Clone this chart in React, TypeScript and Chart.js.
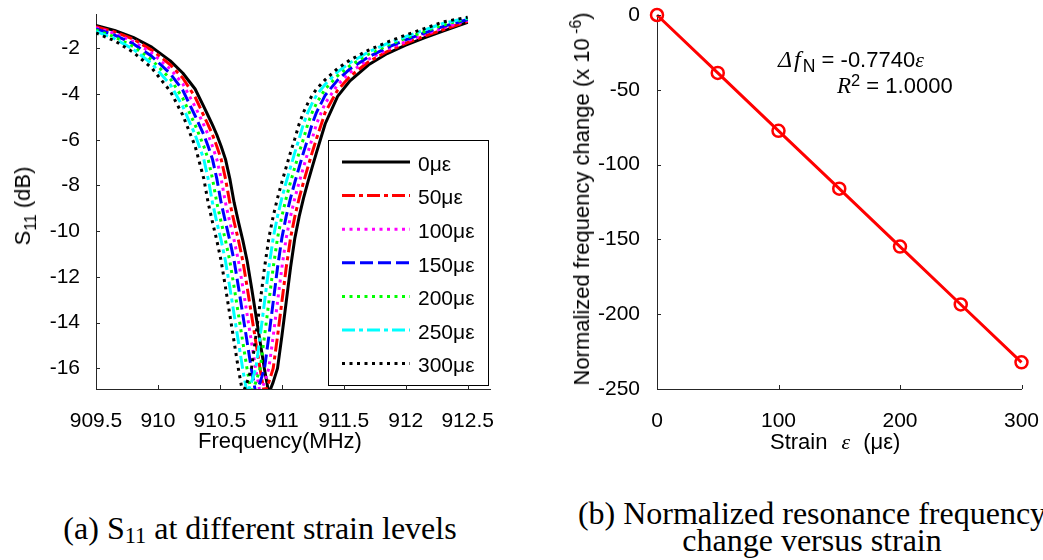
import React, { useEffect, useRef } from 'react';
import { Chart, registerables } from 'chart.js';

Chart.register(...registerables);

// ---------------- data: (a) S11 vs frequency ----------------
const freqMHz = [
  909.5, 909.65, 909.8, 909.95, 910.1, 910.2, 910.3,
  910.37, 910.405, 910.44, 910.475, 910.51, 910.545, 910.58, 910.615, 910.65, 910.685,
  910.72, 910.755, 910.79, 910.825, 910.86, 910.895, 910.93, 910.965, 911.0, 911.035,
  911.07, 911.105, 911.14, 911.175, 911.21, 911.245, 911.28,
  911.35, 911.45, 911.55, 911.7, 911.85, 912.0, 912.15, 912.3, 912.5,
];

const s11_0 = [
  -1.0, -1.22, -1.52, -1.95, -2.55, -3.08, -3.78,
  -4.55, -4.95, -5.35, -5.78, -6.28, -6.85, -7.7, -8.75, -9.6, -10.4, -11.3, -12.45, -13.65, -14.85, -16.05, -17.1, -16.6, -16.0, -14.6, -13.1, -11.6, -10.3, -9.35, -8.55, -7.85, -7.2, -6.55,
  -5.3, -4.1, -3.42, -2.72, -2.23, -1.86, -1.54, -1.25, -0.86,
];
const s11_50 = [
  -1.05, -1.28, -1.6, -2.08, -2.72, -3.3, -4.13,
  -4.95, -5.35, -5.78, -6.28, -6.85, -7.7, -8.75, -9.6, -10.4, -11.3, -12.45, -13.65, -14.85, -16.05, -17.1, -16.6, -16.0, -14.6, -13.1, -11.6, -10.3, -9.35, -8.55, -7.85, -7.2, -6.55, -5.95,
  -4.8, -3.83, -3.23, -2.59, -2.14, -1.78, -1.47, -1.19, -0.82,
];
const s11_100 = [
  -1.1, -1.35, -1.7, -2.21, -2.91, -3.55, -4.55,
  -5.35, -5.78, -6.28, -6.85, -7.7, -8.75, -9.6, -10.4, -11.3, -12.45, -13.65, -14.85, -16.05, -17.1, -16.6, -16.0, -14.6, -13.1, -11.6, -10.3, -9.35, -8.55, -7.85, -7.2, -6.55, -5.95, -5.3,
  -4.4, -3.6, -3.06, -2.48, -2.05, -1.71, -1.4, -1.12, -0.78,
];
const s11_150 = [
  -1.15, -1.42, -1.8, -2.35, -3.11, -3.83, -4.95,
  -5.78, -6.28, -6.85, -7.7, -8.75, -9.6, -10.4, -11.3, -12.45, -13.65, -14.85, -16.05, -17.1, -16.6, -16.0, -14.6, -13.1, -11.6, -10.3, -9.35, -8.55, -7.85, -7.2, -6.55, -5.95, -5.3, -4.8,
  -4.05, -3.39, -2.9, -2.37, -1.97, -1.63, -1.33, -1.05, -0.74,
];
const s11_200 = [
  -1.2, -1.5, -1.92, -2.51, -3.34, -4.18, -5.35,
  -6.28, -6.85, -7.7, -8.75, -9.6, -10.4, -11.3, -12.45, -13.65, -14.85, -16.05, -17.1, -16.6, -16.0, -14.6, -13.1, -11.6, -10.3, -9.35, -8.55, -7.85, -7.2, -6.55, -5.95, -5.3, -4.8, -4.4,
  -3.78, -3.2, -2.76, -2.26, -1.88, -1.56, -1.27, -0.98, -0.7,
];
const s11_250 = [
  -1.26, -1.58, -2.04, -2.67, -3.59, -4.54, -5.78,
  -6.85, -7.7, -8.75, -9.6, -10.4, -11.3, -12.45, -13.65, -14.85, -16.05, -17.1, -16.6, -16.0, -14.6, -13.1, -11.6, -10.3, -9.35, -8.55, -7.85, -7.2, -6.55, -5.95, -5.3, -4.8, -4.4, -4.05,
  -3.57, -3.03, -2.63, -2.16, -1.8, -1.49, -1.2, -0.91, -0.67,
];
const s11_300 = [
  -1.33, -1.67, -2.17, -2.86, -3.88, -4.92, -6.28,
  -7.7, -8.75, -9.6, -10.4, -11.3, -12.45, -13.65, -14.85, -16.05, -17.1, -16.6, -16.0, -14.6, -13.1, -11.6, -10.3, -9.35, -8.55, -7.85, -7.2, -6.55, -5.95, -5.3, -4.8, -4.4, -4.05, -3.78,
  -3.37, -2.88, -2.51, -2.08, -1.73, -1.42, -1.14, -0.85, -0.64,
];

const strainLabels = ['0με', '50με', '100με', '150με', '200με', '250με', '300με'];
const freqTicks = [909.5, 910, 910.5, 911, 911.5, 912, 912.5];
const s11Ticks = [-16, -14, -12, -10, -8, -6, -4, -2];

// ---------------- data: (b) normalized frequency change ----------------
const strainUe = [0, 50, 100, 150, 200, 250, 300];
const dfN = [0, -38.7, -77.4, -116.1, -154.8, -193.5, -232.2];
const strainTicks = [0, 100, 200, 300];
const dfTicks = [-250, -200, -150, -100, -50, 0];

// ---------------- styles ----------------
const lineStyles = [
  { color: '#000000', dash: [] as number[] },
  { color: '#ff0000', dash: [13, 4, 4, 4] },
  { color: '#ff00ff', dash: [3, 4.5] },
  { color: '#0000ff', dash: [13, 5] },
  { color: '#00ff00', dash: [3, 4.5] },
  { color: '#00ffff', dash: [13, 4, 4, 4] },
  { color: '#000000', dash: [3, 4.5] },
];

const SANS = '"Liberation Sans", Arial, Helvetica, sans-serif';
const SERIF = '"Liberation Serif", "Times New Roman", serif';
const tickFont = { family: SANS, size: 21 };
const AXIS = '#262626';

function axisOpts(min: number, max: number, tickVals: number[], isX: boolean, size: number, pad: number) {
  return {
    type: 'linear',
    min,
    max,
    grid: { display: false },
    border: { display: true, color: AXIS, width: 1 },
    ticks: {
      font: tickFont,
      color: '#000',
      padding: pad,
      autoSkip: false,
      maxRotation: 0,
      callback: (v: any) => String(v),
    },
    afterBuildTicks: (s: any) => {
      s.ticks = tickVals.map((v) => ({ value: v }));
    },
    afterFit: (s: any) => {
      if (isX) s.height = size;
      else s.width = size;
      s.paddingTop = 0;
      s.paddingBottom = 0;
      s.paddingLeft = 0;
      s.paddingRight = 0;
    },
  };
}

const inwardTicks = {
  id: 'inwardTicks',
  afterDraw(chart: any) {
    const ctx = chart.ctx;
    const { left, bottom } = chart.chartArea;
    const xs = chart.scales.x;
    const ys = chart.scales.y;
    ctx.save();
    ctx.strokeStyle = AXIS;
    ctx.lineWidth = 1;
    ctx.setLineDash([]);
    ctx.beginPath();
    xs.ticks.forEach((t: any) => {
      const px = Math.round(xs.getPixelForValue(t.value)) + 0.5;
      ctx.moveTo(px, bottom);
      ctx.lineTo(px, bottom - 4);
    });
    ys.ticks.forEach((t: any) => {
      const py = Math.round(ys.getPixelForValue(t.value)) + 0.5;
      ctx.moveTo(left, py);
      ctx.lineTo(left + 4, py);
    });
    ctx.stroke();
    ctx.restore();
  },
};

const boxLegend = {
  id: 'boxLegend',
  afterDatasetsDraw(chart: any, _args: any, o: any) {
    if (!o || !o.w) return;
    const ctx = chart.ctx;
    ctx.save();
    ctx.fillStyle = '#ffffff';
    ctx.fillRect(o.x, o.y, o.w, o.h);
    ctx.strokeStyle = '#000';
    ctx.lineWidth = 1;
    ctx.setLineDash([]);
    ctx.strokeRect(o.x + 0.5, o.y + 0.5, o.w, o.h);
    chart.data.datasets.forEach((ds: any, i: number) => {
      const y = o.firstY + i * o.rowH;
      ctx.beginPath();
      ctx.setLineDash(ds.borderDash || []);
      ctx.lineWidth = ds.borderWidth;
      ctx.strokeStyle = ds.borderColor;
      ctx.lineCap = 'butt';
      ctx.moveTo(o.lineX0, y);
      ctx.lineTo(o.lineX1, y);
      ctx.stroke();
      ctx.setLineDash([]);
      ctx.fillStyle = '#000';
      ctx.font = o.font;
      ctx.textBaseline = 'middle';
      ctx.textAlign = 'left';
      ctx.fillText(ds.label, o.textX, y + o.textDy);
    });
    ctx.restore();
  },
};

const txt: React.CSSProperties = {
  position: 'absolute',
  whiteSpace: 'nowrap',
  lineHeight: 1,
  color: '#000',
  fontFamily: SANS,
  fontSize: 22,
};

export default function App() {
  const leftRef = useRef<HTMLCanvasElement>(null);
  const rightRef = useRef<HTMLCanvasElement>(null);

  useEffect(() => {
    const series = [s11_0, s11_50, s11_100, s11_150, s11_200, s11_250, s11_300];
    const left = new Chart(leftRef.current as HTMLCanvasElement, {
      type: 'line',
      data: {
        datasets: series.map((vals, k) => ({
          label: strainLabels[k],
          data: freqMHz.map((f, i) => ({ x: f, y: vals[i] })),
          borderColor: lineStyles[k].color,
          borderWidth: 3,
          borderDash: lineStyles[k].dash,
          borderJoinStyle: 'round',
          pointRadius: 0,
          fill: false,
          tension: 0,
          order: 6 - k,
          clip: 0,
        })),
      } as any,
      options: {
        responsive: false,
        animation: false,
        events: [],
        layout: { padding: { left: 0, top: 14, right: 30, bottom: 0 } },
        scales: {
          x: axisOpts(909.5, 912.68, freqTicks, true, 81, 12),
          y: axisOpts(-16.9, -0.5, s11Ticks, false, 96, 8),
        } as any,
        plugins: {
          legend: { display: false },
          tooltip: { enabled: false },
          boxLegend: {
            x: 328, y: 140, w: 160, h: 245,
            firstY: 162, rowH: 33.6,
            lineX0: 342, lineX1: 410, textX: 418, textDy: 3,
            font: `21px ${SANS}`,
          },
        } as any,
      },
      plugins: [boxLegend, inwardTicks],
    });

    const right = new Chart(rightRef.current as HTMLCanvasElement, {
      type: 'line',
      data: {
        datasets: [
          {
            label: 'dfN',
            data: strainUe.map((s, i) => ({ x: s, y: dfN[i] })),
            borderColor: '#ff0000',
            borderWidth: 3,
            pointRadius: 6,
            pointBorderWidth: 2.5,
            pointBorderColor: '#ff0000',
            pointBackgroundColor: 'rgba(0,0,0,0)',
            pointStyle: 'circle',
            tension: 0,
            fill: false,
            clip: false,
          },
        ],
      } as any,
      options: {
        responsive: false,
        animation: false,
        events: [],
        layout: { padding: { left: 0, top: 15, right: 21.5, bottom: 0 } },
        scales: {
          x: axisOpts(0, 300, strainTicks, true, 81, 12),
          y: axisOpts(-250, 0, dfTicks, false, 137, 9),
        } as any,
        plugins: { legend: { display: false }, tooltip: { enabled: false } },
      },
      plugins: [inwardTicks],
    });

    return () => {
      left.destroy();
      right.destroy();
    };
  }, []);

  return (
    <div
      style={{
        position: 'absolute',
        left: 0,
        top: 0,
        width: 1043,
        height: 560,
        overflow: 'hidden',
        background: '#fff',
      }}
    >
      <canvas ref={leftRef} width={520} height={470} style={{ position: 'absolute', left: 0, top: 0 }} />
      <canvas ref={rightRef} width={523} height={470} style={{ position: 'absolute', left: 520, top: 0 }} />

      {/* (a) axis titles */}
      <div style={{ ...txt, left: 23, top: 206, transform: 'translate(-50%,-50%) rotate(-90deg)' }}>
        S<span style={{ fontSize: '0.72em', position: 'relative', top: '0.35em' }}>11</span>&nbsp;(dB)
      </div>
      <div style={{ ...txt, left: 280, top: 441, transform: 'translate(-50%,-50%)' }}>Frequency(MHz)</div>

      {/* (b) axis titles */}
      <div style={{ ...txt, left: 582, top: 199, transform: 'translate(-50%,-50%) rotate(-90deg)' }}>
        Normalized frequency change (x 10
        <span style={{ fontSize: '0.72em', position: 'relative', top: '-0.5em' }}>&nbsp;-6</span>)
      </div>
      <div style={{ ...txt, left: 770, top: 431 }}>
        Strain
        <span style={{ fontFamily: SERIF, fontStyle: 'italic', marginLeft: 14, marginRight: 13 }}>ε</span>
        (με)
      </div>

      {/* (b) fit annotation */}
      <div style={{ ...txt, left: 778, top: 47 }}>
        <span style={{ fontFamily: SERIF, fontStyle: 'italic', fontSize: 24 }}>Δ</span>
        <span style={{ fontFamily: SERIF, fontStyle: 'italic', fontSize: 24, marginLeft: 2 }}>f</span>
        <span style={{ fontSize: '0.8em', position: 'relative', top: '0.3em', marginLeft: 2 }}>N</span>
        {' = -0.7740'}
        <span style={{ fontFamily: SERIF, fontStyle: 'italic' }}>ε</span>
      </div>
      <div style={{ ...txt, left: 837, top: 74 }}>
        <span style={{ fontFamily: SERIF, fontStyle: 'italic', fontSize: 23 }}>R</span>
        <span style={{ fontSize: '0.75em', position: 'relative', top: '-0.45em' }}>2</span>
        {' = 1.0000'}
      </div>

      {/* captions */}
      <div style={{ ...txt, fontFamily: SERIF, fontSize: 32, left: 260, top: 512, transform: 'translateX(-50%)' }}>
        (a) S<span style={{ fontSize: '0.7em', position: 'relative', top: '0.2em' }}>11</span> at different strain levels
      </div>
      <div style={{ ...txt, fontFamily: SERIF, fontSize: 32, left: 812, top: 497, transform: 'translateX(-50%)' }}>
        (b) Normalized resonance frequency
      </div>
      <div style={{ ...txt, fontFamily: SERIF, fontSize: 32, left: 812, top: 524, transform: 'translateX(-50%)' }}>
        change versus strain
      </div>
    </div>
  );
}
